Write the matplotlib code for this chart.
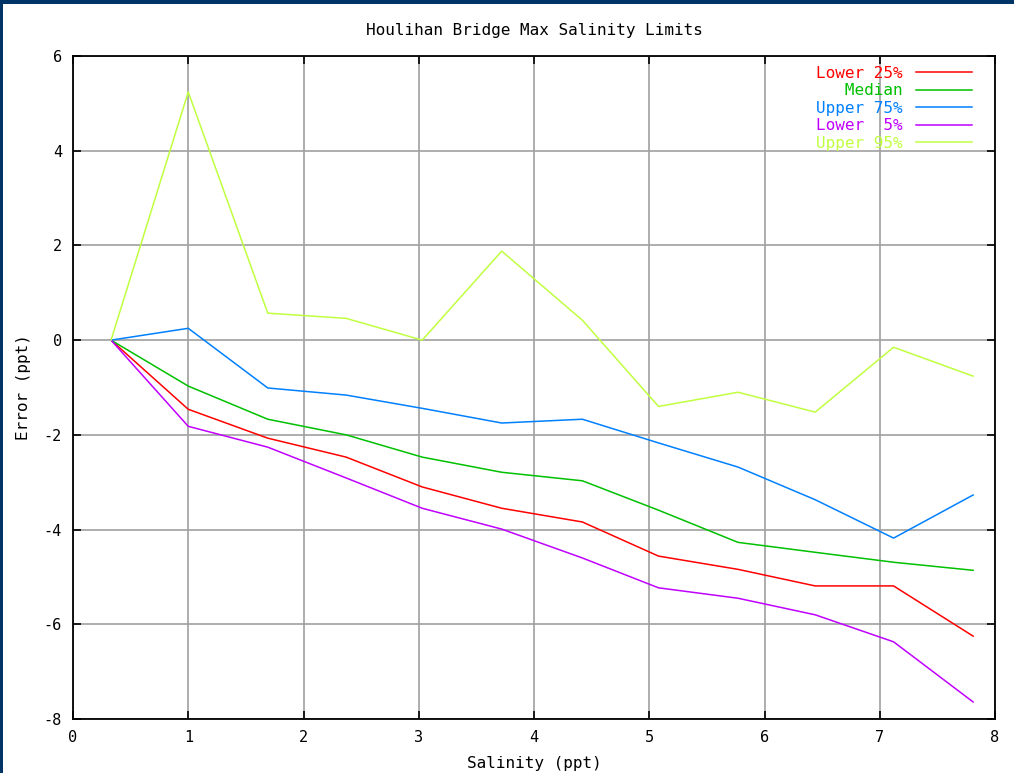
import matplotlib
matplotlib.use("Agg")
import matplotlib.pyplot as plt
from matplotlib.patches import Rectangle

salinity = [0.33, 1.0, 1.69, 2.37, 3.03, 3.72, 4.42, 5.08, 5.77, 6.44, 7.12, 7.81]
lower25 = [0.0, -1.46, -2.07, -2.47, -3.10, -3.55, -3.84, -4.56, -4.84, -5.19, -5.19, -6.25]
median = [0.0, -0.97, -1.67, -2.00, -2.47, -2.79, -2.97, -3.59, -4.27, -4.48, -4.69, -4.86]
upper75 = [0.0, 0.25, -1.01, -1.16, -1.44, -1.75, -1.67, -2.17, -2.68, -3.37, -4.18, -3.27]
lower5 = [0.0, -1.82, -2.26, -2.91, -3.55, -3.99, -4.60, -5.23, -5.45, -5.80, -6.37, -7.64]
upper95 = [0.0, 5.24, 0.57, 0.46, 0.0, 1.88, 0.42, -1.40, -1.10, -1.52, -0.15, -0.76]

series_labels = ["Lower 25%", "   Median", "Upper 75%", "Lower  5%", "Upper 95%"]
series_colors = ["#ff0000", "#00c000", "#0080ff", "#c000ff", "#c0ff40"]
x_ticks = [0, 1, 2, 3, 4, 5, 6, 7, 8]
y_ticks = [-8, -6, -4, -2, 0, 2, 4, 6]

W, H = 1014, 773
fig = plt.figure(figsize=(W / 100, H / 100), dpi=100)
fig.patch.set_facecolor("white")
font = "DejaVu Sans Mono"

ax = fig.add_axes([73 / W, 1 - 719 / H, (995 - 73) / W, (719 - 56) / H])
for ys, lab, col in zip([lower25, median, upper75, lower5, upper95], series_labels, series_colors):
    ax.plot(salinity, ys, color=col, lw=1.1, label=lab)

ax.set_xlim(0, 8)
ax.set_ylim(-8, 6)
ax.set_xticks(x_ticks)
ax.set_yticks(y_ticks)
ax.set_xticklabels([str(v) for v in x_ticks], fontfamily=font, fontsize=11)
ax.set_yticklabels([str(v) for v in y_ticks], fontfamily=font, fontsize=11)
ax.grid(True, color="#a0a0a0", lw=1.2)
ax.set_axisbelow(True)
ax.tick_params(direction="in", length=6, width=1.2, top=True, right=True, pad=8, colors="black")
for s in ax.spines.values():
    s.set_linewidth(1.3)
    s.set_color("black")

ax.set_title("Houlihan Bridge Max Salinity Limits", fontfamily=font, fontsize=11.5, pad=15)
ax.set_xlabel("Salinity (ppt)", fontfamily=font, fontsize=11.5, labelpad=8)
ax.set_ylabel("Error (ppt)", fontfamily=font, fontsize=11.5, labelpad=9)

leg = ax.legend(loc="upper right", frameon=False, markerfirst=False, labelcolor="linecolor",
                prop={"family": font, "size": 11.5}, handlelength=3.5, handletextpad=0.8,
                labelspacing=0.16, borderaxespad=0.2, bbox_to_anchor=(0.985, 1.0))

border = "#003366"
fig.patches.append(Rectangle((0, 1 - 4 / H), 1, 4 / H, transform=fig.transFigure,
                             facecolor=border, edgecolor="none", zorder=10))
fig.patches.append(Rectangle((0, 0), 2.5 / W, 1, transform=fig.transFigure,
                             facecolor=border, edgecolor="none", zorder=10))

fig.savefig("out.png", dpi=100, facecolor="white")
